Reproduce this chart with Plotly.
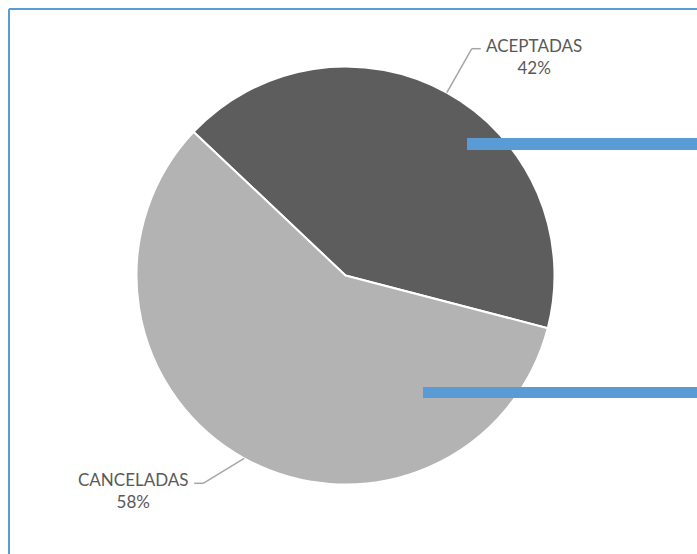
import math
import plotly.graph_objects as go

# ---- data ----
categories = ["ACEPTADAS", "CANCELADAS"]
values = [42, 58]
slice_colors = ["#5d5d5d", "#b3b3b3"]

# ---- layout geometry (pixels) ----
W, H = 697, 554
CX, CY, R = 345.5, 275.5, 209.0   # pie centre / radius in pixels (from top-left)
START_DEG = -46.6                  # first slice starts here (clockwise from 12 o'clock)
# leader-line elbow offset from the slice edge point (pixels), per label
LEADER_OFFSETS = [(25, -44), (-41, 25)]

def px(x):
    return x / W

def py(y):
    return 1 - y / H

fig = go.Figure()
fig.add_trace(go.Pie(
    labels=categories,
    values=values,
    sort=False,
    direction="clockwise",
    rotation=START_DEG,
    textinfo="none",
    hoverinfo="label+percent",
    marker=dict(colors=slice_colors, line=dict(color="white", width=2)),
    domain=dict(x=[px(CX - R), px(CX + R)], y=[py(CY + R), py(CY - R)]),
    showlegend=False,
))

# ---- outside labels with leader lines, positioned from slice mid-angles ----
total = sum(values)
shapes = []
annotations = []
acc = 0.0
for cat, v, (ox, oy) in zip(categories, values, LEADER_OFFSETS):
    mid = START_DEG + (acc + v / 2) / total * 360
    acc += v
    a = math.radians(mid)
    sx, sy = math.sin(a), -math.cos(a)
    ex, ey = CX + R * sx, CY + R * sy            # edge point
    kx, ky = ex + ox, ey + oy                    # elbow
    side = 1 if sx >= 0 else -1
    tx = kx + side * 9
    shapes.append(dict(type="line", xref="paper", yref="paper",
                       x0=px(ex), y0=py(ey), x1=px(kx), y1=py(ky),
                       line=dict(color="#a6a6a6", width=1.5)))
    shapes.append(dict(type="line", xref="paper", yref="paper",
                       x0=px(kx), y0=py(ky), x1=px(tx), y1=py(ky),
                       line=dict(color="#a6a6a6", width=1.5)))
    pct = round(v / total * 100)
    annotations.append(dict(
        xref="paper", yref="paper",
        x=px(tx + side * 3), y=py(ky - 16),
        xanchor="left" if side > 0 else "right", yanchor="top",
        text=f"{cat}<br>{pct}%", showarrow=False, align="center",
        font=dict(family="Lato, Open Sans, sans-serif", size=17, color="#595959"),
    ))

# ---- decorative frame and blue bars ----
frame_col = "#5b9bd5"
shapes.append(dict(type="line", xref="paper", yref="paper",
                   x0=px(9), y0=py(9), x1=px(9), y1=-0.05,
                   line=dict(color=frame_col, width=2)))
shapes.append(dict(type="line", xref="paper", yref="paper",
                   x0=px(9), y0=py(9), x1=1.05, y1=py(9),
                   line=dict(color=frame_col, width=2)))
shapes.append(dict(type="rect", xref="paper", yref="paper",
                   x0=px(467), x1=1.02, y0=py(150), y1=py(138),
                   fillcolor=frame_col, line=dict(width=0)))
shapes.append(dict(type="rect", xref="paper", yref="paper",
                   x0=px(423), x1=1.02, y0=py(398), y1=py(387),
                   fillcolor=frame_col, line=dict(width=0)))

fig.update_layout(
    width=W, height=H,
    margin=dict(l=0, r=0, t=0, b=0),
    paper_bgcolor="white", plot_bgcolor="white",
    shapes=shapes, annotations=annotations,
)
fig.write_html("out.html", config={"displayModeBar": False},
               post_script="document.body.style.margin='0';document.body.style.padding='0';")
